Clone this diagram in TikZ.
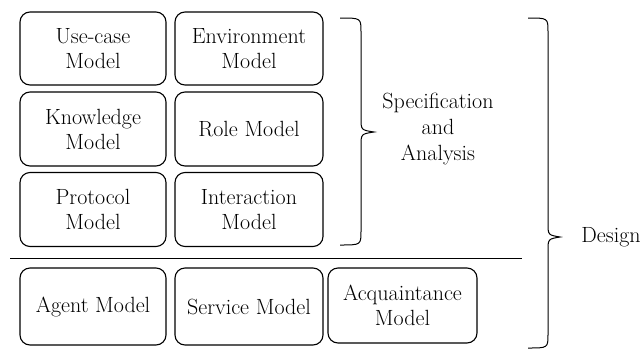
\documentclass[tikz,border=0pt]{standalone}
\begin{document}
\begin{tikzpicture}[x=1pt,y=-1pt,
  box/.style={draw, rounded corners=10pt, line width=1.1pt, align=center,
    font=\fontsize{22}{25}\selectfont, inner sep=0pt},
  lbl/.style={align=center, font=\fontsize{22}{26}\selectfont, inner sep=0pt},
  brace/.style={draw, line width=1pt}]
\useasboundingbox (0,0) rectangle (644,351);
\node[box, minimum width=146pt, minimum height=73pt] (uc) at (93,48.5) {Use-case\\Model};
\node[box, minimum width=148pt, minimum height=73pt] (env) at (249,48.5) {Environment\\Model};
\node[box, minimum width=146pt, minimum height=74pt] (kn) at (93,129) {Knowledge\\Model};
\node[box, minimum width=148pt, minimum height=74pt] (role) at (249,129) {Role Model};
\node[box, minimum width=146pt, minimum height=74pt] (prot) at (93,209.5) {Protocol\\Model};
\node[box, minimum width=148pt, minimum height=74pt] (inter) at (249,209.5) {Interaction\\Model};
\node[box, minimum width=146pt, minimum height=77pt] (agent) at (93,306.5) {Agent Model};
\node[box, minimum width=148pt, minimum height=77pt] (service) at (249,306.5) {Service Model};
\node[box, minimum width=149pt, minimum height=75pt] (acq) at (402.5,305.5) {Acquaintance\\Model};
\draw[line width=1pt] (10,258) -- (522,258);
% brace 1
\draw[brace] (340,18) .. controls (361,18) .. (361,32) -- (361,118)
  .. controls (361,130) .. (374,132) .. controls (361,134) .. (361,146)
  -- (361,231) .. controls (361,245) .. (340,245);
\node[lbl] (spec) at (438,129) {Specification\\and\\Analysis};
% brace 2
\draw[brace] (528,18) .. controls (548,18) .. (548,32) -- (548,223)
  .. controls (548,235) .. (560,237) .. controls (548,239) .. (548,251)
  -- (548,334) .. controls (548,348) .. (528,348);
\node[lbl] (design) at (611,237) {Design};
\end{tikzpicture}
\end{document}
